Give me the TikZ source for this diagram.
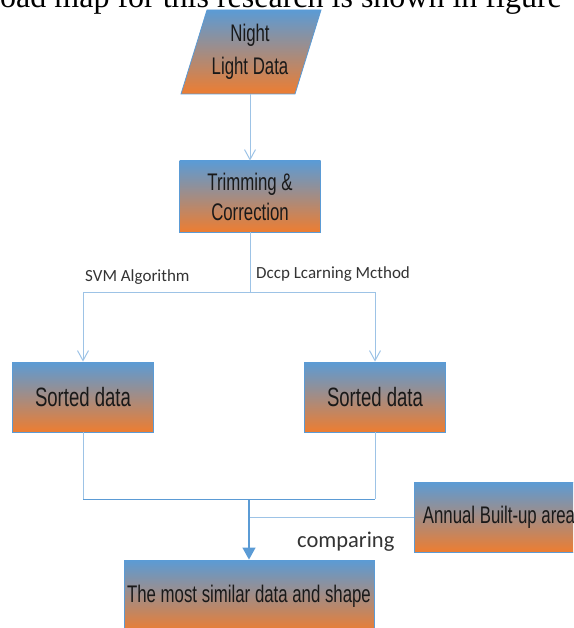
\documentclass[tikz,border=0pt]{standalone}
\usepackage{fontspec}
\setmainfont{Liberation Serif}
\newfontfamily\boxfont[FakeStretch=0.7]{Liberation Sans}
\newfontfamily\labelfont{Carlito}
\usetikzlibrary{positioning,arrows.meta}
\definecolor{boxblue}{HTML}{5B9BD5}
\definecolor{boxorange}{HTML}{ED7D31}
\definecolor{linkblue}{HTML}{9DC3E6}
\begin{document}
\begin{tikzpicture}
[x=1pt,y=-1pt,
 stepbox/.style={draw=boxblue, line width=0.8pt, top color=boxblue, bottom color=boxorange,
   text=black!90, font=\boxfont\fontsize{24}{30}\selectfont, align=center, inner sep=0pt},
 link/.style={draw=linkblue, line width=1pt},
 vtip/.style={-{Straight Barb[length=10pt,width=11pt]}},
 lbl/.style={font=\labelfont\fontsize{17}{20}\selectfont, text=black!80, inner sep=0pt, anchor=base west}]
\useasboundingbox (0,0) rectangle (573,628);
\clip (0,0) rectangle (573,628);
% line of the page above the figure
\node[anchor=base west, inner sep=0pt, font=\fontsize{32}{36}\selectfont] (caption) at (0,7.5) {oad map for this research is shown in figure};
% input parallelogram
\shade[draw=boxblue, line width=0.8pt, top color=boxblue, bottom color=boxorange]
  (181,94) -- (207,10) -- (321,10) -- (295,94) -- cycle;
\node[minimum width=114, minimum height=84, inner sep=0pt, align=center,
      text=black!90, font=\boxfont\fontsize{24}{30}\selectfont] (night) at (250,52) {Night\\[3pt]Light Data};
% boxes
\node[stepbox, minimum width=141, minimum height=71] (trim) at (250,196.5) {Trimming \&\\Correction};
\node[stepbox, minimum width=141, minimum height=70, font=\boxfont\fontsize{26.5}{30}\selectfont] (sortL) at (83,397) {Sorted data};
\node[stepbox, minimum width=141, minimum height=70, font=\boxfont\fontsize{26.5}{30}\selectfont] (sortR) at (375,397) {Sorted data};
\node[stepbox, minimum width=170, minimum height=70] (annual) at (499,517) {Annual Built-up area};
\node[stepbox, minimum width=250, minimum height=72] (final) at (249,596) {The most similar data and shape};
% junctions
\coordinate (split) at (250,292);
\coordinate (splitL) at (83,292);
\coordinate (splitR) at (375,292);
\coordinate (mergeL) at (83,499);
\coordinate (mergeR) at (375,499);
\coordinate (merge) at (249,499);
\coordinate (join) at (249,517);
% connectors
\draw[link, vtip] (night) -- (trim);
\draw[link] (trim) -- (split);
\draw[link] (splitL) -- (splitR);
\draw[link, vtip] (splitL) -- (sortL);
\draw[link, vtip] (splitR) -- (sortR);
\draw[link] (sortL) -- (mergeL);
\draw[link] (sortR) -- (mergeR);
\draw[boxblue, line width=1pt] (mergeL) -- (mergeR);
\draw[link] (annual) -- (join);
\draw[boxblue, line width=1.2pt, -{Triangle[length=12pt,width=13pt]}] (merge) -- (final);
% labels
\node[lbl] (svm) at (85,281) {SVM Algorithm};
\node[lbl] (deep) at (256,278) {Dccp Lcarning Mcthod};
\node[lbl, font=\labelfont\fontsize{22.5}{26}\selectfont] (cmp) at (297,547) {comparing};
\end{tikzpicture}
\end{document}
